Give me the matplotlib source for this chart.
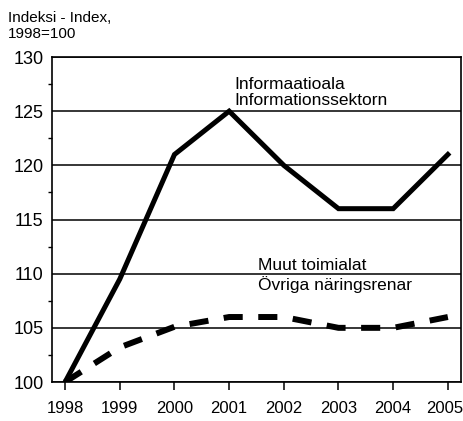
import matplotlib.pyplot as plt
from matplotlib.ticker import MultipleLocator
from matplotlib.transforms import ScaledTranslation

plt.rcParams['font.family'] = ['Liberation Sans', 'DejaVu Sans']

vuodet = [1998, 1999, 2000, 2001, 2002, 2003, 2004, 2005]
informaatioala = [100, 109.5, 121, 125, 120, 116, 116, 121]
muut = [100, 103.2, 105.1, 106, 106, 105, 105, 106]

fig = plt.figure(figsize=(4.64, 4.21), dpi=100)
ax = fig.add_axes([0.112, 0.0926, 0.8815, 0.772])

ax.plot(vuodet, informaatioala, color='black', linewidth=3.6, solid_joinstyle='miter')
ax.plot(vuodet, muut, color='black', linewidth=4.3, linestyle=(0, (3.2, 2.6)))

ax.set_xlim(1997.76, 2005.24)
ax.set_ylim(100, 130)
ax.set_xticks(vuodet)
ax.set_yticks(range(100, 131, 5))
ax.yaxis.set_minor_locator(MultipleLocator(2.5))
ax.grid(axis='y', color='black', linewidth=1.1)
ax.tick_params(axis='x', which='major', labelsize=12, width=1.1, length=6, pad=8, direction='out')
ax.tick_params(axis='y', which='major', labelsize=13, length=0, pad=6)
ax.tick_params(axis='y', which='minor', width=1, length=3, direction='out')
for s in ax.spines.values():
    s.set_linewidth(1.2)

# viimeinen vuosi hieman vasemmalle, ettei leikkaudu reunasta
viimeinen = ax.get_xticklabels()[-1]
viimeinen.set_transform(viimeinen.get_transform() + ScaledTranslation(-0.03, 0, fig.dpi_scale_trans))

fig.text(0.018, 0.975, 'Indeksi - Index,\n1998=100', fontsize=11, va='top', ha='left', linespacing=1.25)
ax.text(2001.1, 126.7, 'Informaatioala\nInformationssektorn', fontsize=12.5, va='center', ha='left', linespacing=1.1)
ax.text(2001.52, 109.8, 'Muut toimialat\nÖvriga näringsrenar', fontsize=12.5, va='center', ha='left', linespacing=1.2)

plt.savefig('out.png', dpi=100)
